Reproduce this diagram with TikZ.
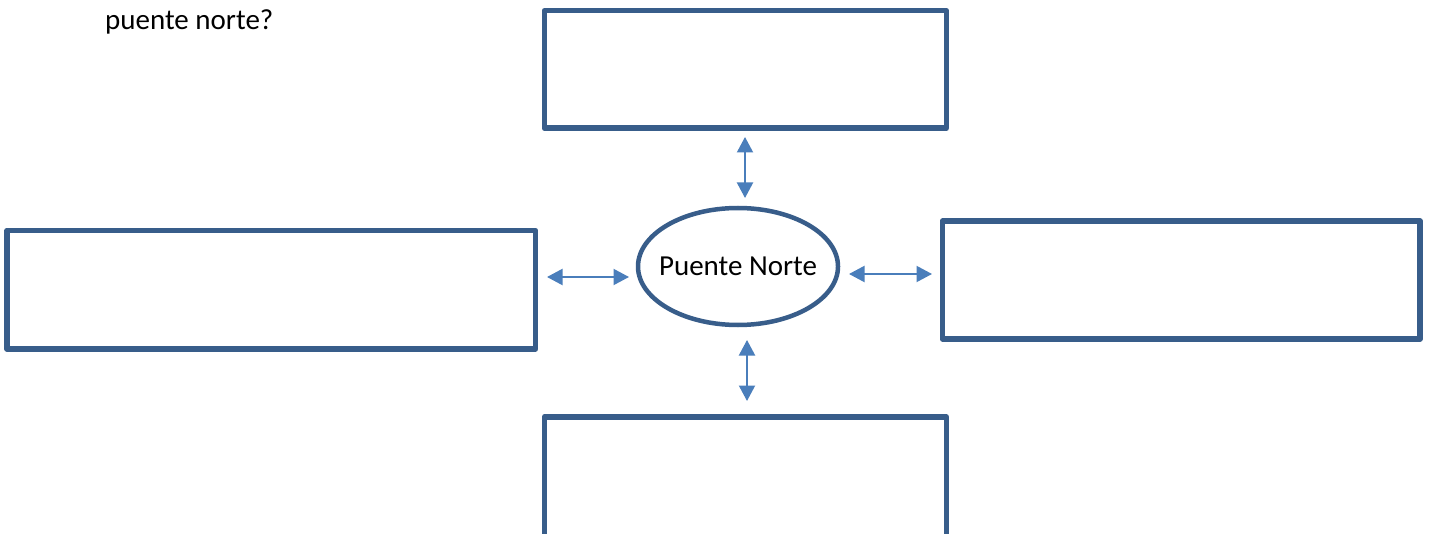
\documentclass[tikz,border=0pt]{standalone}
\usepackage{fontspec}
\setmainfont{Carlito}
\usetikzlibrary{arrows.meta,shapes.geometric}
\definecolor{boxblue}{HTML}{385D8A}
\definecolor{arrowblue}{HTML}{4A7EBB}
\tikzset{
  panel/.style={draw=boxblue, line width=5.5pt, line join=round, rectangle, inner sep=0pt, outer sep=0pt},
  hub/.style={draw=boxblue, line width=4.5pt, ellipse, inner sep=0pt, outer sep=0pt,
    minimum width=200pt, minimum height=117pt, font=\fontsize{29}{35}\selectfont},
  link/.style={draw=arrowblue, line width=2pt, {Triangle[length=15.5pt,width=16pt]}-{Triangle[length=15.5pt,width=16pt]}},
  caption/.style={font=\fontsize{29}{35}\selectfont, inner sep=0pt, anchor=base west}
}
\begin{document}
\begin{tikzpicture}[x=1pt,y=-1pt]
\clip (0,0) rectangle (1431,534);
\fill[white] (0,0) rectangle (1431,534);
\node[caption] (q) at (105,30) {puente norte?};
\node[panel, minimum width=402pt, minimum height=117.5pt] (top) at (745.3,69.5) {};
\node[panel, minimum width=528.5pt, minimum height=118.5pt] (left) at (271.25,289.75) {};
\node[panel, minimum width=477.5pt, minimum height=118pt] (right) at (1181.2,280) {};
\node[panel, minimum width=402pt, minimum height=160pt] (bottom) at (745.3,497) {};
\node[hub] (hub) at (738,266.5) {\makebox[0pt]{Puente Norte}};
\coordinate (t1) at (745,137);
\coordinate (t2) at (745,198);
\coordinate (b1) at (747,340);
\coordinate (b2) at (747,401);
\coordinate (l1) at (547,277);
\coordinate (l2) at (629,277);
\coordinate (r1) at (849,274);
\coordinate (r2) at (932,274);
\draw[link] (t1) -- (t2);
\draw[link] (b1) -- (b2);
\draw[link] (l1) -- (l2);
\draw[link] (r1) -- (r2);
\end{tikzpicture}
\end{document}
